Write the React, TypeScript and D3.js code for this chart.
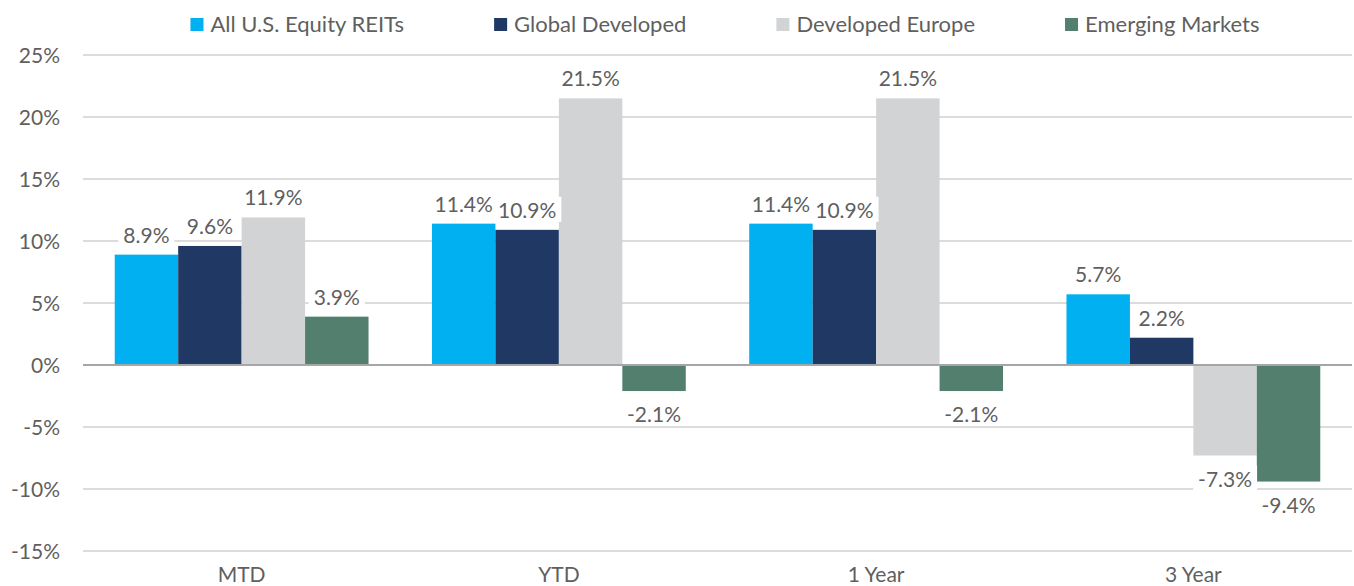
import { useEffect, useRef } from 'react'
import * as d3 from 'd3'

const categories = ['MTD', 'YTD', '1 Year', '3 Year']
const seriesNames = ['All U.S. Equity REITs', 'Global Developed', 'Developed Europe', 'Emerging Markets']
const usReits = [8.9, 11.4, 11.4, 5.7]
const globalDeveloped = [9.6, 10.9, 10.9, 2.2]
const developedEurope = [11.9, 21.5, 21.5, -7.3]
const emergingMarkets = [3.9, -2.1, -2.1, -9.4]
const yTicks = [25, 20, 15, 10, 5, 0, -5, -10, -15]
const colors = ['#00B0F0', '#203864', '#D1D3D5', '#527F6E']

function App() {
  const svgRef = useRef<SVGSVGElement>(null)

  useEffect(() => {
    const width = 1354
    const height = 586
    const margin = { top: 55, right: 2, bottom: 35, left: 83 }
    const font = 'Lato, sans-serif'
    const textColor = '#5f5f5f'
    const allSeries = [usReits, globalDeveloped, developedEurope, emergingMarkets]

    const svg = d3.select(svgRef.current)
      .attr('width', width)
      .attr('height', height)
    svg.selectAll('*').remove()

    const y = d3.scaleLinear()
      .domain([-15, 25])
      .range([height - margin.bottom, margin.top])

    const x0 = d3.scaleBand()
      .domain(categories)
      .range([margin.left, width - margin.right])
      .paddingInner(0.2)
      .paddingOuter(0.1)

    const x1 = d3.scaleBand()
      .domain(seriesNames)
      .range([0, x0.bandwidth()])

    // gridlines + y labels
    svg.append('g')
      .selectAll('line')
      .data(yTicks.filter(t => t !== 0))
      .join('line')
      .attr('x1', margin.left)
      .attr('x2', width - margin.right)
      .attr('y1', d => y(d))
      .attr('y2', d => y(d))
      .attr('stroke', '#D0D0D0')
      .attr('stroke-width', 1.3)

    svg.append('g')
      .selectAll('text')
      .data(yTicks)
      .join('text')
      .attr('x', margin.left - 23)
      .attr('y', d => y(d))
      .attr('dy', '0.36em')
      .attr('text-anchor', 'end')
      .attr('font-family', font)
      .attr('font-size', 21)
      .attr('fill', textColor)
      .text(d => `${d}%`)

    // bars
    const groups = svg.append('g')
      .selectAll('g')
      .data(categories)
      .join('g')
      .attr('transform', d => `translate(${x0(d)},0)`)

    groups.selectAll('rect')
      .data((_, i) => seriesNames.map((s, j) => ({ s, v: allSeries[j][i], j })))
      .join('rect')
      .attr('x', d => x1(d.s)!)
      .attr('y', d => y(Math.max(0, d.v)))
      .attr('width', x1.bandwidth())
      .attr('height', d => Math.abs(y(d.v) - y(0)))
      .attr('fill', d => colors[d.j])

    // zero line
    svg.append('line')
      .attr('x1', margin.left)
      .attr('x2', width - margin.right)
      .attr('y1', y(0))
      .attr('y2', y(0))
      .attr('stroke', '#A6A6A6')
      .attr('stroke-width', 2)

    // data labels with white boxes
    const labels = groups.selectAll('g.lbl')
      .data((_, i) => seriesNames.map((s, j) => ({ s, v: allSeries[j][i], j })))
      .join('g')
      .attr('class', 'lbl')

    labels.each(function (d) {
      const g = d3.select(this)
      const cx = x1(d.s)! + x1.bandwidth() / 2
      const ty = d.v >= 0 ? y(d.v) - 12 : y(d.v) + 31
      const rect = g.append('rect').attr('fill', 'white')
      const t = g.append('text')
        .attr('x', cx)
        .attr('y', ty)
        .attr('text-anchor', 'middle')
        .attr('font-family', font)
        .attr('font-size', 21)
        .attr('fill', textColor)
        .text(`${d.v.toFixed(1)}%`)
      const bb = (t.node() as SVGTextElement).getBBox()
      rect.attr('x', bb.x - 5)
        .attr('y', bb.y)
        .attr('width', bb.width + 10)
        .attr('height', bb.height)
    })

    // x labels
    svg.append('g')
      .selectAll('text')
      .data(categories)
      .join('text')
      .attr('x', d => x0(d)! + x0.bandwidth() / 2)
      .attr('y', height - 4)
      .attr('text-anchor', 'middle')
      .attr('font-family', font)
      .attr('font-size', 21)
      .attr('fill', textColor)
      .text(d => d)

    // legend, centred
    const legend = svg.append('g')
    const items = legend.selectAll('g')
      .data(seriesNames)
      .join('g')
    items.append('rect')
      .attr('width', 13)
      .attr('height', 13)
      .attr('y', 18)
      .attr('fill', (_, i) => colors[i])
    items.append('text')
      .attr('x', 20)
      .attr('y', 32)
      .attr('font-family', font)
      .attr('font-size', 22)
      .attr('fill', textColor)
      .text(d => d)

    let offset = 0
    const positions: number[] = []
    items.each(function () {
      positions.push(offset)
      offset += (this as SVGGElement).getBBox().width + 90
    })
    const total = offset - 90
    const start = 725 - total / 2
    items.attr('transform', (_, i) => `translate(${start + positions[i]},0)`)
  }, [])

  return (
    <div style={{ position: 'absolute', left: 0, top: 0 }}>
      <svg ref={svgRef} style={{ display: 'block' }}></svg>
    </div>
  )
}

export default App
